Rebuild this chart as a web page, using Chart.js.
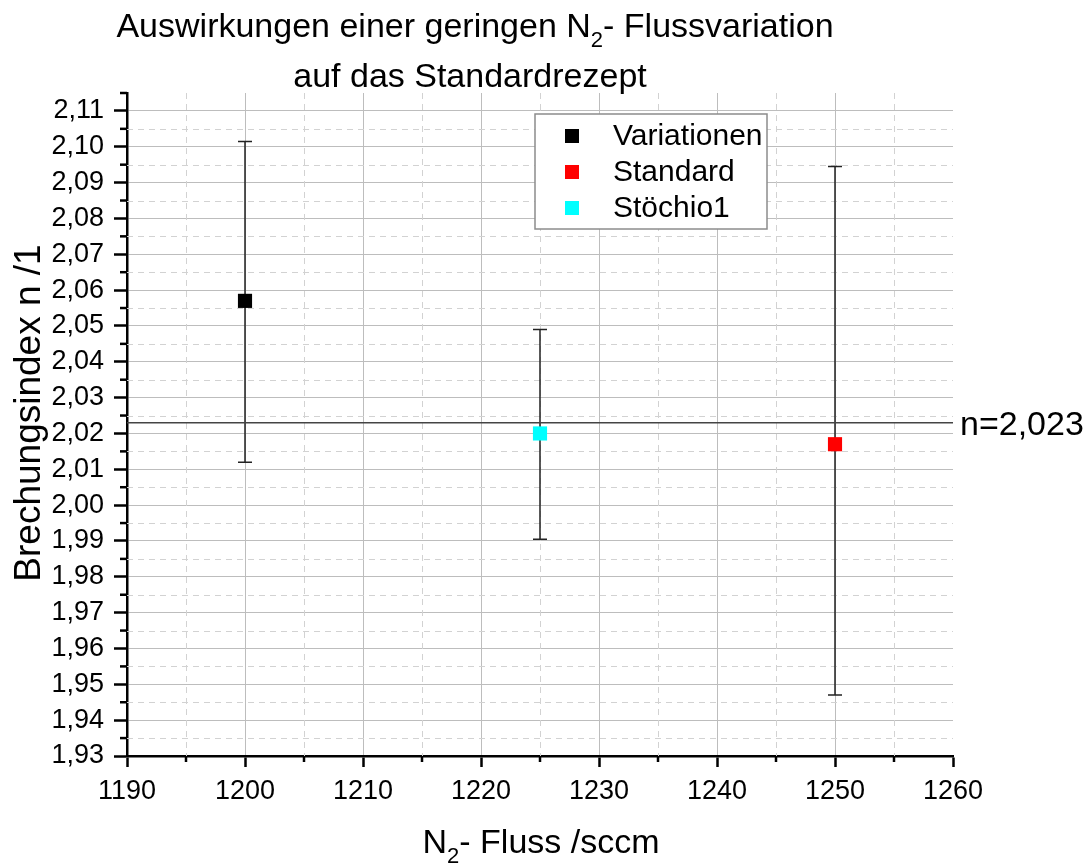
<!DOCTYPE html>
<html>
<head>
<meta charset="utf-8">
<title>Brechungsindex vs N2-Fluss</title>
<script src="https://cdn.jsdelivr.net/npm/chart.js@4.4.0/dist/chart.umd.min.js"></script>
<style>
  html, body { margin: 0; padding: 0; background: #fff; }
  #wrap { width: 1092px; height: 864px; }
</style>
</head>
<body>
<div id="wrap"><canvas id="nChart" width="1092" height="864"></canvas></div>
<script>
// data
const seriesNames = ["Variationen", "Standard", "Stöchio1"];
const seriesColors = ["#000000", "#ff0000", "#00ffff"];
const flowValues = [1200, 1250, 1225];
const indexValues = [2.057, 2.017, 2.020];
const errorsUp = [0.0445, 0.0775, 0.029];
const errorsDown = [0.045, 0.070, 0.0295];
const refValue = 2.023;
const refLabel = "n=2,023";

const xTicks = [1190, 1200, 1210, 1220, 1230, 1240, 1250, 1260];
const yTicks = [1.93, 1.94, 1.95, 1.96, 1.97, 1.98, 1.99, 2.00, 2.01, 2.02,
                2.03, 2.04, 2.05, 2.06, 2.07, 2.08, 2.09, 2.10, 2.11];
const yMax = 2.115;

const FONT = "'Liberation Sans', Arial, sans-serif";
const fmt = v => v.toFixed(2).replace(".", ",");

function minorValues(ticks, max) {
    const step = ticks[1] - ticks[0];
    const out = [];
    ticks.forEach(t => {
        const v = t + step / 2;
        if (v <= max + 1e-9) out.push(v);
    });
    return out;
}

// draws text with a subscript piece: parts = [[text, isSub], ...]
function drawSubText(ctx, parts, cx, base, size) {
    const subSize = Math.round(size * 0.66);
    let total = 0;
    parts.forEach(p => {
        ctx.font = (p[1] ? subSize : size) + "px " + FONT;
        total += ctx.measureText(p[0]).width;
    });
    let xPos = cx - total / 2;
    ctx.textAlign = "left";
    ctx.textBaseline = "alphabetic";
    parts.forEach(p => {
        ctx.font = (p[1] ? subSize : size) + "px " + FONT;
        ctx.fillText(p[0], xPos, p[1] ? base + size * 0.3 : base);
        xPos += ctx.measureText(p[0]).width;
    });
}

const decorPlugin = {
    id: "decor",
    beforeDatasetsDraw(chart) {
        const { ctx, chartArea: a, scales: { x, y } } = chart;
        ctx.save();
        // minor dashed grid
        ctx.strokeStyle = "#d2d2d2";
        ctx.lineWidth = 1;
        ctx.setLineDash([6, 5]);
        minorValues(xTicks, x.max).forEach(v => {
            const px = Math.round(x.getPixelForValue(v)) + 0.5;
            ctx.beginPath(); ctx.moveTo(px, a.top); ctx.lineTo(px, a.bottom); ctx.stroke();
        });
        minorValues(yTicks, y.max).forEach(v => {
            if (v >= y.max - 1e-9) return;
            const py = Math.round(y.getPixelForValue(v)) + 0.5;
            ctx.beginPath(); ctx.moveTo(a.left, py); ctx.lineTo(a.right, py); ctx.stroke();
        });
        ctx.setLineDash([]);

        // error bars
        ctx.strokeStyle = "#222";
        ctx.lineWidth = 1.5;
        flowValues.forEach((fv, i) => {
            const px = x.getPixelForValue(fv);
            const top = y.getPixelForValue(indexValues[i] + errorsUp[i]);
            const bot = y.getPixelForValue(indexValues[i] - errorsDown[i]);
            ctx.beginPath();
            ctx.moveTo(px, top); ctx.lineTo(px, bot);
            ctx.moveTo(px - 7, top); ctx.lineTo(px + 7, top);
            ctx.moveTo(px - 7, bot); ctx.lineTo(px + 7, bot);
            ctx.stroke();
        });
        ctx.restore();
    },
    afterDraw(chart) {
        const { ctx, chartArea: a, scales: { x, y } } = chart;
        ctx.save();

        // minor ticks on the axes
        ctx.strokeStyle = "#000";
        ctx.lineWidth = 2.5;
        minorValues(yTicks, y.max).forEach(v => {
            const py = y.getPixelForValue(v);
            ctx.beginPath(); ctx.moveTo(a.left - 7, py); ctx.lineTo(a.left, py); ctx.stroke();
        });
        minorValues(xTicks, x.max).forEach(v => {
            const px = x.getPixelForValue(v);
            ctx.beginPath(); ctx.moveTo(px, a.bottom); ctx.lineTo(px, a.bottom + 6); ctx.stroke();
        });

        // legend box
        const lx = 535, ly = 114, lw = 232, lh = 115;
        ctx.fillStyle = "#fff";
        ctx.fillRect(lx, ly, lw, lh);
        ctx.strokeStyle = "#8c8c8c";
        ctx.lineWidth = 1.5;
        ctx.strokeRect(lx, ly, lw, lh);
        ctx.font = "30px " + FONT;
        ctx.textAlign = "left";
        ctx.textBaseline = "middle";
        seriesNames.forEach((name, i) => {
            const cy = ly + 22 + i * 36;
            ctx.fillStyle = seriesColors[i];
            ctx.fillRect(lx + 30, cy - 7, 14, 14);
            ctx.fillStyle = "#000";
            ctx.fillText(name, lx + 78, cy + 1);
        });

        // reference label
        ctx.fillStyle = "#000";
        ctx.font = "34px " + FONT;
        ctx.textBaseline = "alphabetic";
        ctx.fillText(refLabel, a.right + 7, y.getPixelForValue(refValue) + 12);

        // title
        drawSubText(ctx, [["Auswirkungen einer geringen N", false], ["2", true], ["- Flussvariation", false]], 475, 37, 34);
        drawSubText(ctx, [["auf das Standardrezept", false]], 470, 87, 34);

        // x axis title
        drawSubText(ctx, [["N", false], ["2", true], ["- Fluss /sccm", false]], 541, 853, 34);

        // y axis title
        ctx.translate(40, 413);
        ctx.rotate(-Math.PI / 2);
        ctx.font = "37px " + FONT;
        ctx.textAlign = "center";
        ctx.textBaseline = "alphabetic";
        ctx.fillText("Brechungsindex n /1", 0, 0);
        ctx.restore();
    }
};

const datasets = seriesNames.map((name, i) => ({
    label: name,
    data: [{ x: flowValues[i], y: indexValues[i] }],
    pointStyle: "rect",
    pointRadius: 10,
    pointBorderWidth: 0,
    backgroundColor: seriesColors[i],
    borderColor: seriesColors[i],
    order: 0
}));
datasets.push({
    label: refLabel,
    data: [{ x: xTicks[0], y: refValue }, { x: xTicks[xTicks.length - 1], y: refValue }],
    showLine: true,
    borderColor: "#444",
    borderWidth: 1.5,
    pointRadius: 0,
    order: 10
});

const ctx = document.getElementById("nChart").getContext("2d");
new Chart(ctx, {
    type: "scatter",
    data: { datasets: datasets },
    plugins: [decorPlugin],
    options: {
        responsive: false,
        animation: false,
        layout: { padding: { left: 0, right: 139, top: 93, bottom: 0 } },
        plugins: { legend: { display: false }, tooltip: { enabled: false } },
        scales: {
            x: {
                type: "linear",
                min: xTicks[0],
                max: xTicks[xTicks.length - 1],
                afterBuildTicks: s => { s.ticks = xTicks.map(v => ({ value: v })); },
                afterFit: s => { s.height = 108; },
                ticks: {
                    font: { family: FONT, size: 27 },
                    color: "#000",
                    padding: 8,
                    maxRotation: 0,
                    callback: v => String(v)
                },
                grid: {
                    color: c => (c.tick && c.tick.value === xTicks[xTicks.length - 1]) ? "rgba(0,0,0,0)" : "#bdbdbd",
                    lineWidth: 1,
                    tickColor: "#000",
                    tickLength: 11,
                    tickWidth: 2.5
                },
                border: { color: "#000", width: 2.5 }
            },
            y: {
                type: "linear",
                min: yTicks[0],
                max: yMax,
                afterBuildTicks: s => { s.ticks = yTicks.map(v => ({ value: v })); },
                afterFit: s => { s.width = 127; },
                ticks: {
                    font: { family: FONT, size: 27 },
                    color: "#000",
                    padding: 10,
                    callback: v => fmt(v)
                },
                grid: {
                    color: "#bdbdbd",
                    lineWidth: 1,
                    tickColor: "#000",
                    tickLength: 13,
                    tickWidth: 2.5
                },
                border: { color: "#000", width: 2.5 }
            }
        }
    }
});
</script>
</body>
</html>
